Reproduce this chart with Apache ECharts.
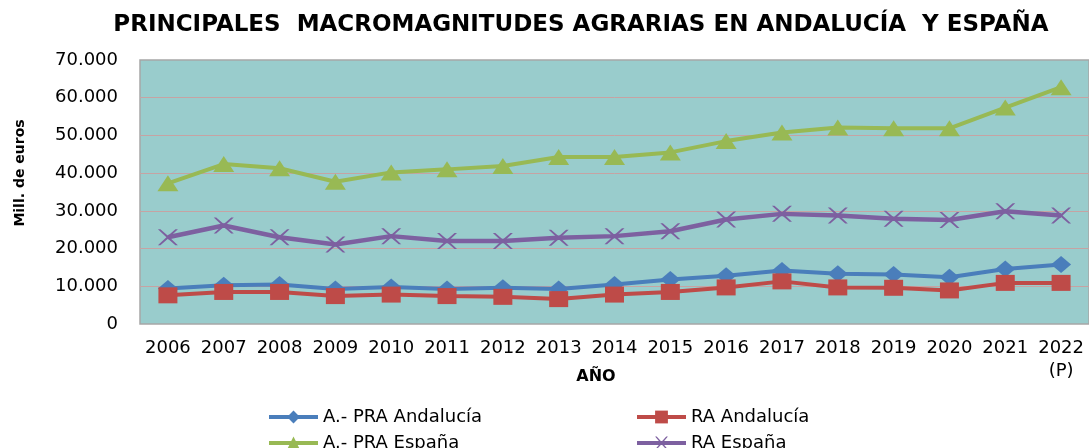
<!DOCTYPE html>
<html>
<head>
<meta charset="utf-8">
<script src="https://cdn.jsdelivr.net/npm/echarts@6/dist/echarts.min.js"></script>
<style>
  html, body { margin: 0; padding: 0; background: #fff; }
  #chart { width: 1089px; height: 448px; }
</style>
</head>
<body>
<div id="chart"></div>
<script>
// años (2022 provisional)
var years = ['2006', '2007', '2008', '2009', '2010', '2011', '2012', '2013', '2014',
             '2015', '2016', '2017', '2018', '2019', '2020', '2021', '2022\n(P)'];

// millones de euros
var praAndalucia = [9400, 10300, 10500, 9300, 9800, 9300, 9600, 9300, 10500,
                    11800, 12800, 14200, 13300, 13100, 12400, 14600, 15800];
var raAndalucia  = [7600, 8500, 8500, 7400, 7800, 7400, 7200, 6600, 7800,
                    8500, 9700, 11300, 9700, 9600, 8900, 10900, 10900];
var praEspana    = [37300, 42400, 41300, 37700, 40200, 41000, 41900, 44300, 44300,
                    45500, 48500, 50800, 52100, 51900, 51900, 57400, 62800];
var raEspana     = [23000, 26100, 23000, 21100, 23300, 22000, 22000, 22900, 23300,
                    24600, 27700, 29200, 28800, 27900, 27600, 29900, 28800];

var yTicks = { min: 0, max: 70000, step: 10000 };

var FONT = '"DejaVu Sans", Verdana, sans-serif';
// aspa del marcador de "RA España"
var crossPath = 'path://M0,0L2.5,0L10,6.5L17.5,0L20,0L11.5,8L20,16L17.5,16L10,9.5L2.5,16L0,16L8.5,8Z';

function fmtMiles(v) {
    return String(v).replace(/\B(?=(\d{3})+(?!\d))/g, '.');
}

function lineSerie(name, data, color, symbol, size, width) {
    return {
        name: name,
        type: 'line',
        data: data,
        symbol: symbol,
        symbolSize: size,
        showAllSymbol: true,
        lineStyle: { color: color, width: width },
        itemStyle: { color: color },
        emphasis: { disabled: true }
    };
}

var myChart = echarts.init(document.getElementById('chart'), null, { renderer: 'canvas' });

var option = {
    animation: false,
    backgroundColor: '#ffffff',
    title: {
        text: 'PRINCIPALES  MACROMAGNITUDES AGRARIAS EN ANDALUCÍA  Y ESPAÑA',
        left: 581,
        top: 14,
        padding: 0,
        textAlign: 'center',
        textStyle: { fontFamily: FONT, fontWeight: 'bold', fontSize: 23, color: '#000' }
    },
    graphic: [{
        type: 'text',
        x: 20,
        y: 173,
        rotation: Math.PI / 2,
        style: {
            text: 'Mill. de euros',
            fill: '#000',
            font: 'bold 14px ' + FONT,
            align: 'center',
            verticalAlign: 'middle'
        }
    }, {
        type: 'text',
        x: 596,
        y: 377,
        style: {
            text: 'AÑO',
            fill: '#000',
            font: 'bold 16px ' + FONT,
            align: 'center',
            verticalAlign: 'middle'
        }
    }],
    legend: {
        left: 267,
        top: 406,
        padding: 0,
        width: 760,
        itemWidth: 49,
        itemHeight: 16,
        itemGap: 4,
        lineStyle: { width: 4 },
        textStyle: { fontFamily: FONT, fontSize: 18, color: '#000', width: 308, lineHeight: 22 },
        data: ['A.- PRA Andalucía', 'RA Andalucía', 'A.- PRA España', 'RA España']
    },
    grid: {
        show: true,
        left: 140,
        top: 60,
        width: 954,
        height: 264,
        backgroundColor: '#99cccc',
        borderColor: '#a6a6a6',
        borderWidth: 1.5,
        containLabel: false
    },
    xAxis: {
        type: 'category',
        data: years,
        boundaryGap: true,
        axisLine: { show: false },
        axisTick: { show: false },
        splitLine: { show: false },
        axisLabel: {
            interval: 0,
            margin: 13,
            color: '#000',
            fontFamily: FONT,
            fontSize: 18,
            lineHeight: 23
        }
    },
    yAxis: {
        type: 'value',
        min: yTicks.min,
        max: yTicks.max,
        interval: yTicks.step,
        axisLine: { show: false },
        axisTick: { show: false },
        splitLine: { showMinLine: false, showMaxLine: false, lineStyle: { color: '#c6a3a3', width: 1 } },
        axisLabel: {
            margin: 22,
            color: '#000',
            fontFamily: FONT,
            fontSize: 18,
            formatter: fmtMiles
        }
    },
    series: [
        lineSerie('A.- PRA Andalucía', praAndalucia, '#4a7ebb', 'diamond', [20, 17], 4),
        lineSerie('RA Andalucía', raAndalucia, '#be4b48', 'rect', [19, 16], 4),
        lineSerie('A.- PRA España', praEspana, '#98b954', 'triangle', [21, 16], 4),
        lineSerie('RA España', raEspana, '#7d60a0', crossPath, [20, 16], 4.5)
    ]
};

myChart.setOption(option);
</script>
</body>
</html>
